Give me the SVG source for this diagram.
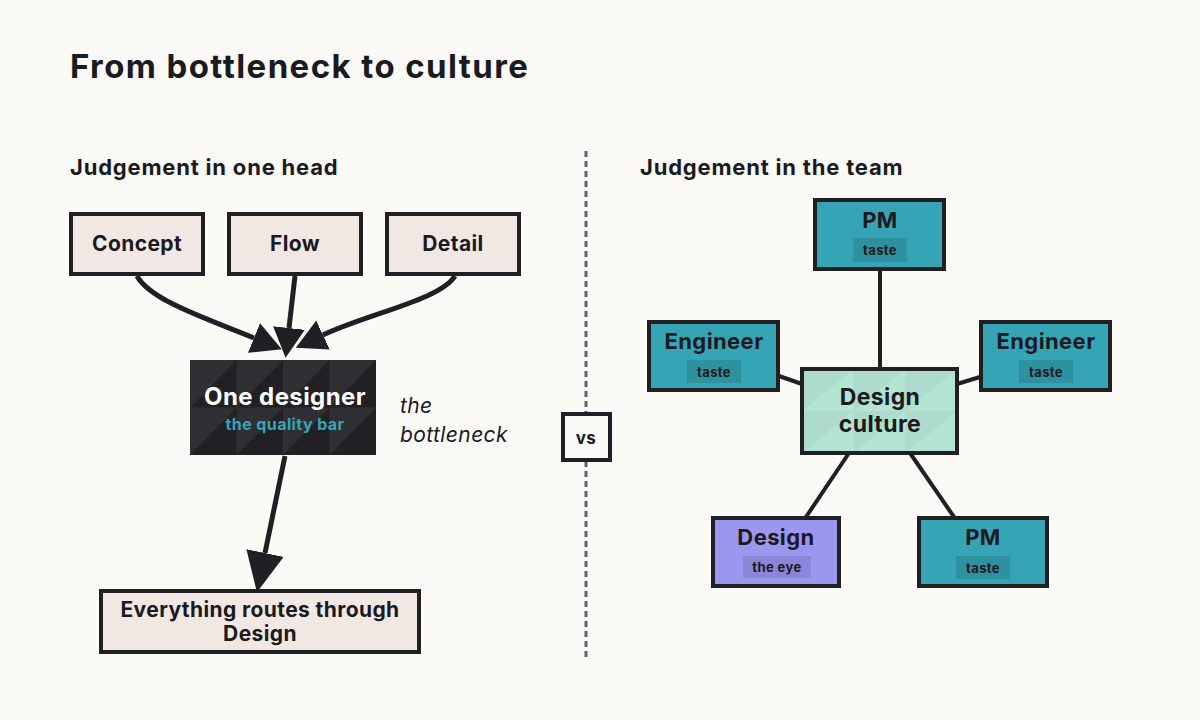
<svg xmlns="http://www.w3.org/2000/svg" width="1200" height="720" viewBox="0 0 1200 720">
<style>
.t{font-family:Inter,"Liberation Sans",sans-serif;font-weight:700;fill:#1a1a1f;text-anchor:middle;letter-spacing:0.4px}
.h{font-family:Inter,"Liberation Sans",sans-serif;font-weight:700;fill:#1a1a1f}
.box{stroke:#1f1f24;stroke-width:4}
.beige{fill:#f1e8e3}
.teal{fill:#35a5b5}
.badge{fill:#2e919f}
.edge{fill:none;stroke:#1f1f24;stroke-width:5}
.link{fill:none;stroke:#1f1f24;stroke-width:4}
</style>
<defs>
<marker id="ah" markerUnits="userSpaceOnUse" markerWidth="30" markerHeight="32" refX="0" refY="16" orient="auto" viewBox="0 0 30 32">
<path d="M0,0 L30,16 L0,32 Z" fill="#1f1f24"/>
</marker>
<marker id="ahb" markerUnits="userSpaceOnUse" markerWidth="40" markerHeight="38" refX="0" refY="19" orient="auto" viewBox="0 0 40 38">
<path d="M0,0 L40,19 L0,38 Z" fill="#1f1f24"/>
</marker>
<pattern id="dk" patternUnits="userSpaceOnUse" x="190" y="360" width="46.5" height="47.5">
<rect width="46.5" height="47.5" fill="#26262b"/>
<path d="M0,47.5 L46.5,0 L46.5,47.5 Z" fill="#202025"/>
<path d="M0,0 L46.5,0 L0,47.5 Z" fill="#2f2f34"/>
</pattern>
<pattern id="gr" patternUnits="userSpaceOnUse" x="802" y="369" width="51.7" height="42">
<rect width="51.7" height="42" fill="#aedbcb"/>
<path d="M0,42 L51.7,0 L51.7,42 Z" fill="#b4e4d4"/>
</pattern>
</defs>
<rect width="1200" height="720" fill="#fbfaf7"/>
<text class="h" x="70" y="78" font-size="33" letter-spacing="1.4">From bottleneck to culture</text>
<text class="h" x="70" y="175" font-size="22" letter-spacing="0.8">Judgement in one head</text>
<text class="h" x="640" y="175" font-size="22" letter-spacing="0.8">Judgement in the team</text>

<g id="connectors">
<path class="edge" d="M137,276 C150,300 205,318 254,338" marker-end="url(#ah)"/>
<path class="edge" d="M295,276 L289,328" marker-end="url(#ah)"/>
<path class="edge" d="M455,276 C440,300 370,313 323,335" marker-end="url(#ah)"/>
<path class="edge" d="M285,456 L265,553" marker-end="url(#ahb)"/>
<line x1="586" y1="151" x2="586" y2="660" stroke="#5a6661" stroke-width="3" stroke-dasharray="6,4"/>
<line class="link" x1="880" y1="270" x2="880" y2="369"/>
<line class="link" x1="779" y1="376" x2="802" y2="384"/>
<line class="link" x1="957" y1="384" x2="980" y2="377"/>
<line class="link" x1="849" y1="453" x2="806" y2="517"/>
<line class="link" x1="910" y1="453" x2="954" y2="517"/>
</g>

<g id="concept"><rect class="box beige" x="71" y="214" width="132" height="60"/><text class="t" x="137" y="251" font-size="21">Concept</text></g>
<g id="flow"><rect class="box beige" x="229" y="214" width="132" height="60"/><text class="t" x="295" y="251" font-size="21">Flow</text></g>
<g id="detail"><rect class="box beige" x="387" y="214" width="132" height="60"/><text class="t" x="453" y="251" font-size="21">Detail</text></g>

<g id="one-designer">
<rect x="190" y="360" width="186" height="95" fill="url(#dk)"/>
<text class="t" x="285" y="405" font-size="24" style="fill:#ffffff">One designer</text>
<text class="t" x="285" y="430" font-size="16" style="fill:#35a5b5">the quality bar</text>
</g>
<g id="bottleneck-note">
<text x="400" y="413" font-family="Inter,'Liberation Sans',sans-serif" font-style="italic" font-size="21" letter-spacing="0.4" fill="#1a1a1f">the</text>
<text x="400" y="442" font-family="Inter,'Liberation Sans',sans-serif" font-style="italic" font-size="21" letter-spacing="0.4" fill="#1a1a1f">bottleneck</text>
</g>

<g id="everything"><rect class="box beige" x="101" y="591" width="318" height="61"/>
<text class="t" x="260" y="617" font-size="21">Everything routes through</text>
<text class="t" x="260" y="641" font-size="21">Design</text></g>

<g id="vs"><rect x="563" y="414" width="47" height="46" fill="#fbfaf7" stroke="#1f1f24" stroke-width="4"/><text class="t" x="586" y="444" font-size="17">vs</text></g>

<g id="pm-top"><rect class="box teal" x="815" y="200" width="129" height="69"/>
<text class="t" x="880" y="228" font-size="22">PM</text>
<rect class="badge" x="853" y="238" width="54" height="24"/>
<text class="t" x="880" y="255" font-size="13">taste</text></g>

<g id="engineer-left"><rect class="box teal" x="649" y="322" width="129" height="68"/>
<text class="t" x="714" y="349" font-size="22">Engineer</text>
<rect class="badge" x="687" y="360" width="54" height="23"/>
<text class="t" x="714" y="377" font-size="13">taste</text></g>

<g id="engineer-right"><rect class="box teal" x="981" y="322" width="129" height="68"/>
<text class="t" x="1046" y="349" font-size="22">Engineer</text>
<rect class="badge" x="1019" y="360" width="54" height="23"/>
<text class="t" x="1046" y="377" font-size="13">taste</text></g>

<g id="design-culture"><rect x="802" y="369" width="155" height="84" fill="url(#gr)" stroke="#1f1f24" stroke-width="4"/>
<text class="t" x="880" y="405" font-size="23">Design</text>
<text class="t" x="880" y="432" font-size="23">culture</text></g>

<g id="design"><rect class="box" x="713" y="518" width="126" height="68" fill="#9c97ee"/>
<text class="t" x="776" y="545" font-size="22">Design</text>
<rect x="743" y="556" width="68" height="22" fill="#8b86d8"/>
<text class="t" x="777" y="572" font-size="13">the eye</text></g>

<g id="pm-bottom"><rect class="box teal" x="919" y="518" width="128" height="68"/>
<text class="t" x="983" y="545" font-size="22">PM</text>
<rect class="badge" x="956" y="556" width="54" height="23"/>
<text class="t" x="983" y="573" font-size="13">taste</text></g>
</svg>
